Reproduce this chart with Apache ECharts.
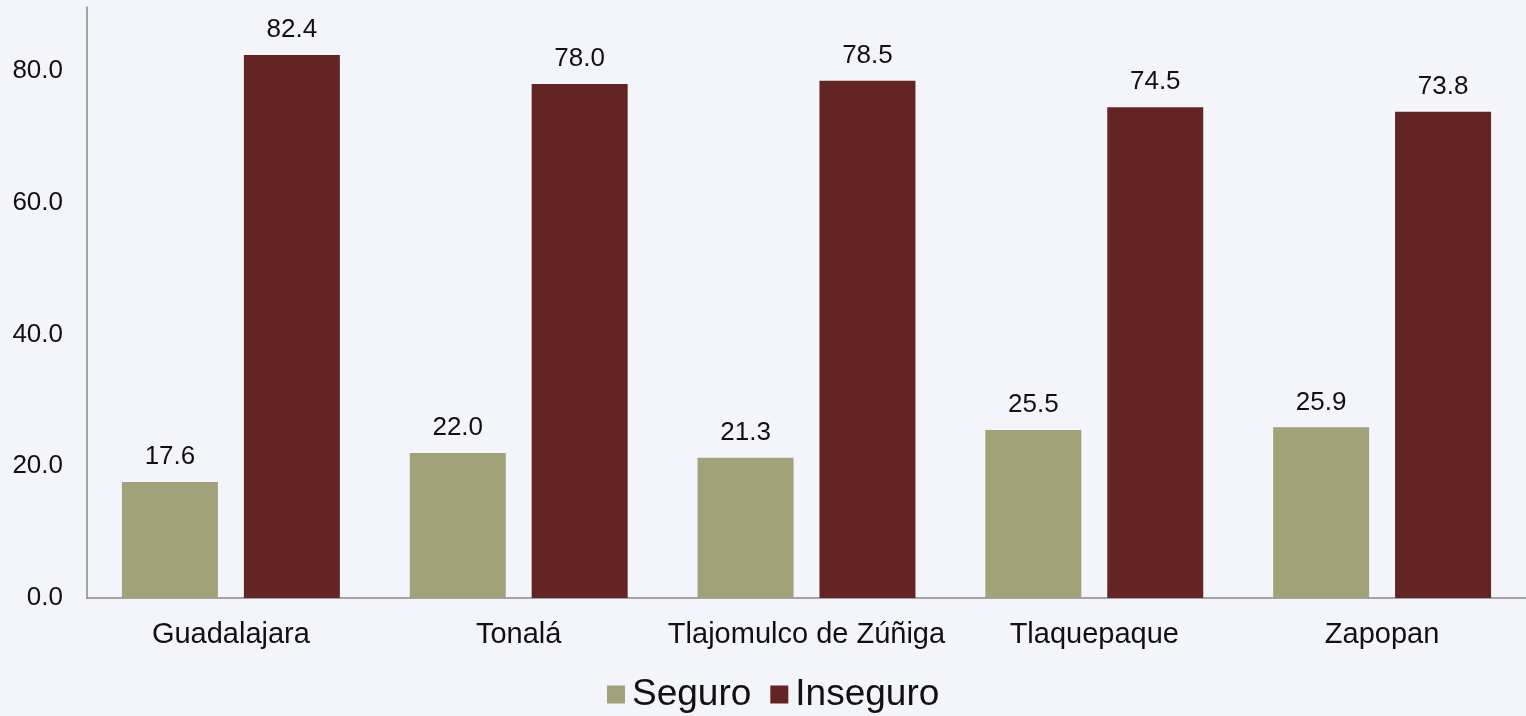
<!DOCTYPE html>
<html><head><meta charset="utf-8">
<script src="https://cdn.jsdelivr.net/npm/echarts@6/dist/echarts.min.js"></script>
<style>html,body{margin:0;padding:0;background:#f4f5fa}#c{width:1526px;height:716px}</style>
</head><body><div id="c"></div>
<script>
const categories = ['Guadalajara','Tonalá','Tlajomulco de Zúñiga','Tlaquepaque','Zapopan'];
const seguro = [17.6, 22.0, 21.3, 25.5, 25.9];
const inseguro = [82.4, 78.0, 78.5, 74.5, 73.8];
const seriesNames = ['Seguro','Inseguro'];
const chart = echarts.init(document.getElementById('c'), null, {renderer:'canvas'});
const font = 'Liberation Sans, Arial, sans-serif';
const lbl = {show:true, position:'top', distance:12, fontSize:26, color:'#111', fontFamily:font, formatter: p => p.value.toFixed(1)};
chart.setOption({
  backgroundColor:'#f4f5fa',
  animation:false,
  grid:{left:87, top:7, width:1445, bottom:118},
  legend:{bottom:3, left:607, padding:0, itemWidth:18, itemHeight:18, itemGap:19,
    textStyle:{fontSize:37, color:'#111', fontFamily:font, padding:[0,0,0,2]}, icon:'rect', data:seriesNames},
  xAxis:{type:'category', data:categories,
    axisLine:{lineStyle:{color:'#888', width:1.5}}, axisTick:{show:false},
    axisLabel:{fontSize:29, color:'#111', fontFamily:font, margin:22, interval:0, hideOverlap:false}},
  yAxis:{type:'value', min:0, max:89.7, interval:20,
    axisLine:{show:true, lineStyle:{color:'#888', width:1.5}}, axisTick:{show:false},
    splitLine:{show:false},
    axisLabel:{fontSize:26, color:'#111', fontFamily:font, margin:24, showMaxLabel:false, formatter: v => v.toFixed(1)}},
  series:[
    {name:seriesNames[0], type:'bar', data:seguro, barWidth:96, barGap:'27%', itemStyle:{color:'#a2a27a'}, label:lbl},
    {name:seriesNames[1], type:'bar', data:inseguro, barWidth:96, itemStyle:{color:'#632424'}, label:lbl}
  ]
});
</script></body></html>
